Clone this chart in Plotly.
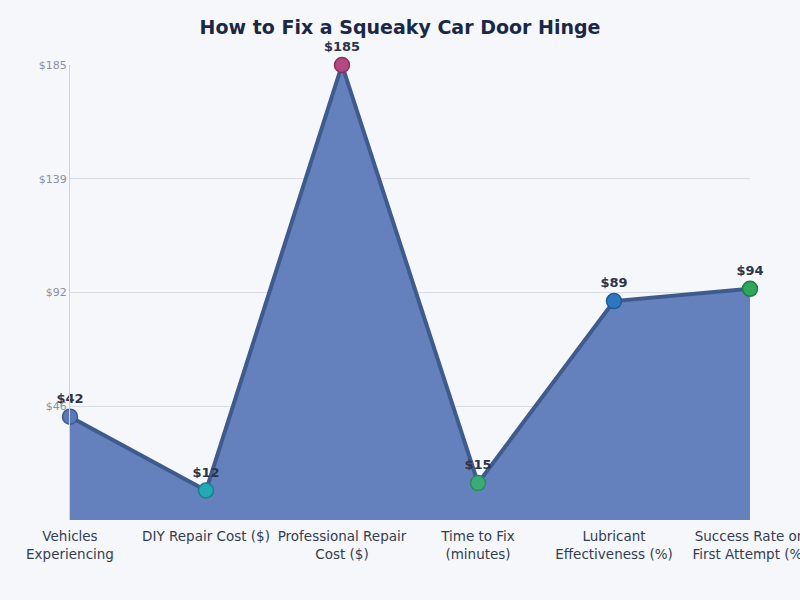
import plotly.graph_objects as go

# Data
categories = [
    "Vehicles<br>Experiencing",
    "DIY Repair Cost ($)",
    "Professional Repair<br>Cost ($)",
    "Time to Fix<br>(minutes)",
    "Lubricant<br>Effectiveness (%)",
    "Success Rate on<br>First Attempt (%)",
]
values = [42, 12, 185, 15, 89, 94]
point_colors = ["#5b79b9", "#22a9b3", "#b24a7f", "#3aab77", "#2c77c0", "#2ea65b"]
point_borders = ["#3d5a8c", "#1a8088", "#8a2f5e", "#2a8a5c", "#1d5a98", "#1e7e42"]

y_ticks = [46.25, 92.5, 138.75, 185]
y_tick_text = ["$46", "$92", "$139", "$185"]

fig = go.Figure()

fig.add_trace(go.Scatter(
    x=categories,
    y=values,
    mode="lines+markers+text",
    fill="tozeroy",
    fillcolor="rgba(101,129,189,1)",
    line=dict(color="#3f5b8e", width=4),
    marker=dict(size=15, color=point_colors, line=dict(color=point_borders, width=1.5)),
    text=["$" + str(v) for v in values],
    textposition="top center",
    textfont=dict(family="DejaVu Sans", size=13, color="#2b3448", weight="bold"),
    cliponaxis=False,
    showlegend=False,
))

fig.update_layout(
    title=dict(
        text="<b>How to Fix a Squeaky Car Door Hinge</b>",
        x=0.5, xanchor="center", y=0.955, yanchor="middle",
        font=dict(family="DejaVu Sans", size=19, color="#1b2845"),
    ),
    width=800,
    height=600,
    autosize=False,
    margin=dict(l=70, r=50, t=65, b=80),
    paper_bgcolor="#f5f7fb",
    plot_bgcolor="#f5f7fb",
    font=dict(family="DejaVu Sans"),
    xaxis=dict(
        showgrid=False,
        zeroline=False,
        showline=False,
        range=[0, 5],
        automargin=False,
        ticks="outside",
        ticklen=4,
        tickcolor="rgba(0,0,0,0)",
        tickfont=dict(size=13.5, color="#333d50"),
    ),
    yaxis=dict(
        range=[0, 185],
        tickvals=y_ticks,
        ticktext=y_tick_text,
        showgrid=True,
        gridcolor="#d9dce3",
        gridwidth=1,
        zeroline=False,
        showline=True,
        linecolor="#cfd3db",
        linewidth=1,
        automargin=False,
        tickfont=dict(size=11, color="#8a90a0"),
        ticks="",
    ),
)

# drop the default page margin so the figure fills the 800x600 window
fig.write_html(
    "out.html",
    config={"responsive": False, "displayModeBar": False},
    post_script="document.body.style.margin='0';document.body.style.overflow='hidden';",
)
